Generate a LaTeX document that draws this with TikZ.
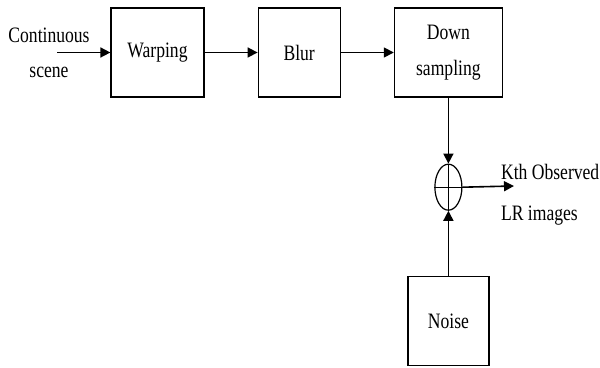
\documentclass[tikz,border=0pt]{standalone}
\usepackage{fontspec}
\setmainfont[FakeStretch=0.8]{Liberation Serif}
\usetikzlibrary{arrows.meta,positioning,shapes.geometric}

\begin{document}
\begin{tikzpicture}[x=0.5pt,y=-0.5pt,node distance=26.5pt,
    font=\fontsize{11}{13}\selectfont,
    block/.style={draw,line width=0.6pt,minimum height=44.5pt,align=center,inner sep=0pt},
    >={Triangle[length=5pt,width=5pt]}]
    \useasboundingbox (0,0) rectangle (600,368);
    \node[block,minimum width=46.5pt] (warp) at (157.5,52.5) {Warping};
    \node[block,minimum width=41pt] (blur) [right=of warp] {Blur};
    \node[block,minimum width=54pt] (down) [right=of blur] {Down\\[5pt]sampling};
    \node[ellipse,draw,line width=0.6pt,minimum width=13.5pt,minimum height=23pt,inner sep=0pt] (sum) [below=33pt of down] {};
    \node[block,minimum width=40.5pt] (noise) [below=32.5pt of sum] {Noise};
    \node[align=center] (scene) at (49,53) {Continuous\\[4.5pt]scene};
    \node[anchor=west,align=left] (lr) at (494,195) {Kth Observed\\[7.5pt]LR images};
    \coordinate (in) at (57,52.5);
    \coordinate (out) at (514,186);
    \draw[line width=0.6pt] (sum.north) -- (sum.south) (sum.west) -- (sum.east);
    \path[->,line width=0.8pt]
    (in) edge (warp)
    (warp) edge (blur)
    (blur) edge (down)
    (down) edge (sum)
    (noise) edge (sum)
    (sum.east) edge (out)
    ;
  \end{tikzpicture}
\end{document}
